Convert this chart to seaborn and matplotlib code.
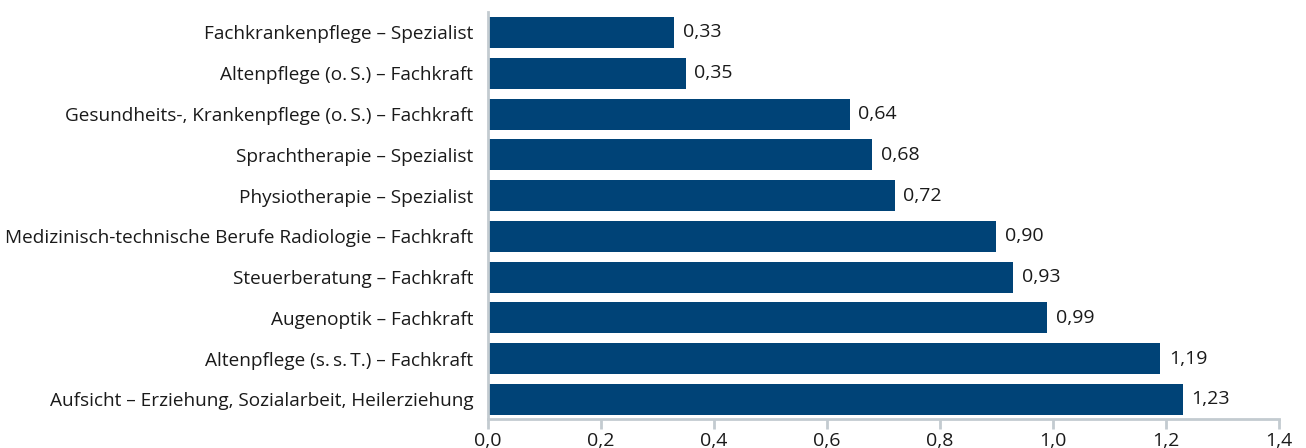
import numpy as np
import pandas as pd
import seaborn as sb
import matplotlib
matplotlib.use('Agg')
from matplotlib import pyplot as plt
from matplotlib.ticker import FuncFormatter

# Berufe und Werte
berufe = ['Fachkrankenpflege – Spezialist',
          'Altenpflege (o.\u2009S.) – Fachkraft',
          'Gesundheits-, Krankenpflege (o.\u2009S.) – Fachkraft',
          'Sprachtherapie – Spezialist',
          'Physiotherapie – Spezialist',
          'Medizinisch-technische Berufe Radiologie – Fachkraft',
          'Steuerberatung – Fachkraft',
          'Augenoptik – Fachkraft',
          'Altenpflege (s.\u2009s.\u2009T.) – Fachkraft',
          'Aufsicht – Erziehung, Sozialarbeit, Heilerziehung']
werte = [0.33, 0.35, 0.64, 0.68, 0.72, 0.90, 0.93, 0.99, 1.19, 1.23]
x_ticks = [0.0, 0.2, 0.4, 0.6, 0.8, 1.0, 1.2, 1.4]

df = pd.DataFrame({'beruf': berufe, 'wert': werte})

sb.set_style('white')
plt.rcParams['font.family'] = ['Open Sans', 'DejaVu Sans']

fig = plt.figure(figsize=(13.06, 4.48), dpi=100)
ax = fig.add_axes([0.3737, 0.0647, 0.6056, 0.9083])

sb.barplot(ax=ax, data=df, x='wert', y='beruf', color='#004377', width=0.76, saturation=1, linewidth=0)

#Werte an die Balken
for i, w in enumerate(werte):
    ax.text(w + 0.015, i, f'{w:.2f}'.replace('.', ','), va='center', ha='left', fontsize=14, color='#1a1a1a')

ax.set_xlim(0, 1.4)
ax.set_ylim(9.48, -0.5)
ax.set_xticks(x_ticks)
ax.xaxis.set_major_formatter(FuncFormatter(lambda v, p: f'{v:.1f}'.replace('.', ',')))
ax.set_xlabel('')
ax.set_ylabel('')

for s in ['top', 'right']:
    ax.spines[s].set_visible(False)
for s in ['left', 'bottom']:
    ax.spines[s].set_color('#c3cbd0')
    ax.spines[s].set_linewidth(2)

ax.tick_params(axis='x', bottom=True, length=7, width=2, color='#c3cbd0', labelsize=14, labelcolor='#1a1a1a', pad=2)
ax.tick_params(axis='y', left=False, labelsize=13.7, labelcolor='#1a1a1a', pad=7)

plt.savefig('out.png', dpi=100)
